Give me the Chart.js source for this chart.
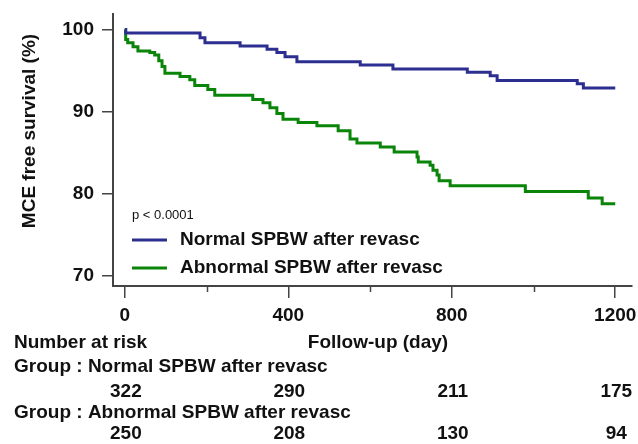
<!DOCTYPE html>
<html>
<head>
<meta charset="utf-8">
<script src="https://cdn.jsdelivr.net/npm/chart.js@4.4.1/dist/chart.umd.min.js"></script>
<style>
  body { margin: 0; background: #fff; }
  #wrap { width: 638px; height: 444px; }
</style>
</head>
<body>
<div id="wrap"><canvas id="myChart" width="638" height="444"></canvas></div>
<script>
// Kaplan-Meier steps: day where the survival changes, and the value from that day on
var normalDays = [0, 2, 184, 196, 282, 348, 372, 392, 421, 576, 656, 838, 894, 911, 1107, 1122, 1200];
var normalSurv = [100, 99.6, 99.0, 98.4, 98.0, 97.6, 97.2, 96.7, 96.1, 95.7, 95.2, 94.8, 94.4, 93.8, 93.4, 92.9, 92.9];

var abnormalDays = [0, 2, 7, 20, 32, 61, 73, 83, 91, 98, 135, 159, 171, 203, 220, 313, 338, 355, 372, 387,
                    424, 470, 522, 551, 568, 625, 659, 715, 718, 747, 754, 764, 769, 796, 980, 1134, 1168, 1200];
var abnormalSurv = [100, 98.8, 98.4, 97.9, 97.4, 97.2, 96.9, 96.2, 95.5, 94.7, 94.3, 93.9, 93.2, 92.7, 92.0, 91.5, 91.1, 90.5, 89.8, 89.1,
                    88.7, 88.3, 87.7, 86.7, 86.2, 85.7, 85.1, 84.5, 83.9, 83.5, 82.9, 82.3, 81.6, 81.0, 80.3, 79.5, 78.8, 78.8];

var xTicks = [0, 400, 800, 1200];
var xMinorTicks = [200, 600, 1000];
var yTicks = [70, 80, 90, 100];

var riskDays = [0, 400, 800, 1200];
var riskNormal = [322, 290, 211, 175];
var riskAbnormal = [250, 208, 130, 94];

var groupNames = ["Normal SPBW after revasc", "Abnormal SPBW after revasc"];
var blue = "#2c2f90";
var green = "#0a850a";
var axisCol = "#444444";
var txt = "#111111";
var fontName = "'Liberation Sans', Arial, sans-serif";

function toPoints(xs, ys) {
  return xs.map(function (d, i) { return { x: d, y: ys[i] }; });
}

var extras = {
  id: "extras",
  afterDraw: function (chart) {
    var ctx = chart.ctx;
    var xs = chart.scales.x;
    var bottom = chart.chartArea.bottom;
    ctx.save();

    // minor ticks
    ctx.strokeStyle = axisCol;
    ctx.lineWidth = 1.5;
    xMinorTicks.forEach(function (v) {
      var px = Math.round(xs.getPixelForValue(v)) + 0.5;
      ctx.beginPath();
      ctx.moveTo(px, bottom);
      ctx.lineTo(px, bottom + 6);
      ctx.stroke();
    });

    // y title
    ctx.fillStyle = txt;
    ctx.font = "bold 19px " + fontName;
    ctx.textAlign = "center";
    ctx.textBaseline = "middle";
    ctx.save();
    ctx.translate(30, 131);
    ctx.rotate(-Math.PI / 2);
    ctx.fillText("MCE free survival (%)", 0, 0);
    ctx.restore();

    // p value + legend
    ctx.textAlign = "left";
    ctx.font = "13px " + fontName;
    ctx.fillText("p < 0.0001", 132, 215);
    ctx.font = "bold 19px " + fontName;
    [[blue, 240], [green, 268]].forEach(function (it, i) {
      ctx.strokeStyle = it[0];
      ctx.lineWidth = 3;
      ctx.beginPath();
      ctx.moveTo(132, it[1]);
      ctx.lineTo(167, it[1]);
      ctx.stroke();
      ctx.fillText(groupNames[i], 180, it[1]);
    });

    // number at risk table
    ctx.fillText("Number at risk", 14, 343);
    ctx.textAlign = "center";
    ctx.fillText("Follow-up (day)", 378, 343);
    ctx.textAlign = "left";
    ctx.fillText("Group : " + groupNames[0], 14, 367);
    ctx.fillText("Group : " + groupNames[1], 14, 413);
    ctx.textAlign = "center";
    riskDays.forEach(function (d, i) {
      var px = xs.getPixelForValue(d) + 1;
      ctx.fillText(String(riskNormal[i]), px, 392);
      ctx.fillText(String(riskAbnormal[i]), px, 434);
    });
    ctx.restore();
  }
};

var ctx = document.getElementById("myChart");
var myChart = new Chart(ctx, {
  type: "line",
  data: {
    datasets: [
      {
        label: groupNames[0],
        data: toPoints(normalDays, normalSurv),
        borderColor: blue,
        borderWidth: 3,
        stepped: true,
        pointRadius: 0,
        fill: false
      },
      {
        label: groupNames[1],
        data: toPoints(abnormalDays, abnormalSurv),
        borderColor: green,
        borderWidth: 3,
        stepped: true,
        pointRadius: 0,
        fill: false
      }
    ]
  },
  options: {
    responsive: false,
    animation: false,
    devicePixelRatio: 1,
    layout: { padding: { top: 14, right: 6, left: 0, bottom: 0 } },
    plugins: { legend: { display: false }, tooltip: { enabled: false } },
    scales: {
      x: {
        type: "linear",
        min: -29,
        max: 1241,
        afterFit: function (s) { s.height = 158; s.paddingLeft = 0; s.paddingRight = 0; },
        afterBuildTicks: function (ax) { ax.ticks = xTicks.map(function (v) { return { value: v }; }); },
        grid: { drawOnChartArea: false, tickLength: 12, color: axisCol, lineWidth: 1.5 },
        border: { color: axisCol, width: 2 },
        ticks: {
          font: { size: 19, weight: "bold", family: fontName }, color: txt, padding: 6, maxRotation: 0,
          callback: function (v) { return String(v); }
        }
      },
      y: {
        min: 68.8,
        max: 101.9,
        afterFit: function (s) { s.width = 113; s.paddingTop = 0; s.paddingBottom = 0; },
        afterBuildTicks: function (ax) { ax.ticks = yTicks.map(function (v) { return { value: v }; }); },
        grid: { drawOnChartArea: false, tickLength: 11, color: axisCol, lineWidth: 1.5 },
        border: { color: axisCol, width: 2 },
        ticks: { font: { size: 19, weight: "bold", family: fontName }, color: txt, padding: 8 }
      }
    }
  },
  plugins: [extras]
});
</script>
</body>
</html>
